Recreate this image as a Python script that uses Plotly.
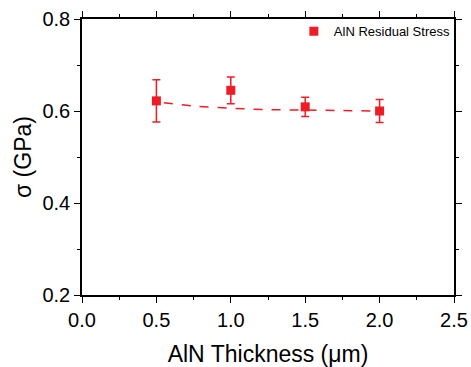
import plotly.graph_objects as go

thickness = [0.5, 1.0, 1.5, 2.0]
stress = [0.622, 0.645, 0.609, 0.600]
stress_err = [0.046, 0.029, 0.021, 0.025]

fit_x = [0.55, 0.75, 1.0, 1.25, 1.5, 1.75, 2.0]
fit_y = [0.618, 0.611, 0.606, 0.603, 0.602, 0.601, 0.600]

RED = "#ee1c25"
FONT = "Liberation Sans, Arial, sans-serif"

fig = go.Figure()
fig.add_trace(go.Scatter(
    x=fit_x, y=fit_y, mode="lines",
    line=dict(color=RED, width=1.5, dash="dash", shape="spline"),
    showlegend=False, hoverinfo="skip"))
fig.add_trace(go.Scatter(
    x=thickness, y=stress, mode="markers", name="AlN Residual Stress",
    marker=dict(symbol="square", size=9, color=RED),
    error_y=dict(type="data", array=stress_err, color=RED, thickness=1.5, width=4)))

axis_common = dict(
    showline=True, linecolor="black", linewidth=1.5, mirror="ticks",
    ticks="outside", ticklen=6, tickwidth=1.2, tickcolor="black",
    showgrid=False, zeroline=False, automargin=False,
    tickfont=dict(family=FONT, size=20, color="black"),
)

fig.update_xaxes(
    range=[0, 2.5], dtick=0.5, tickformat=".1f",
    minor=dict(dtick=0.25, ticks="outside", ticklen=3, tickcolor="black", tickwidth=1.2),
    title=dict(text="AlN Thickness (μm)", font=dict(family=FONT, size=23, color="black"), standoff=20),
    **axis_common)
fig.update_yaxes(
    range=[0.2, 0.8], dtick=0.2, tickformat=".1f",
    minor=dict(dtick=0.1, ticks="outside", ticklen=3, tickcolor="black", tickwidth=1.2),
    title=dict(text="σ (GPa)", font=dict(family=FONT, size=23, color="black"), standoff=4),
    **axis_common)

fig.update_layout(
    width=471, height=367,
    margin=dict(l=82, r=17, t=19, b=72),
    plot_bgcolor="white", paper_bgcolor="white",
    legend=dict(x=1.005, xanchor="right", y=1.01, yanchor="top",
                bgcolor="rgba(0,0,0,0)", font=dict(family=FONT, size=13, color="black"),
                itemwidth=30, tracegroupgap=0),
)

fig.write_html("out.html",
               config={"displayModeBar": False},
               post_script="document.body.style.margin='0';document.body.style.overflow='hidden';")
